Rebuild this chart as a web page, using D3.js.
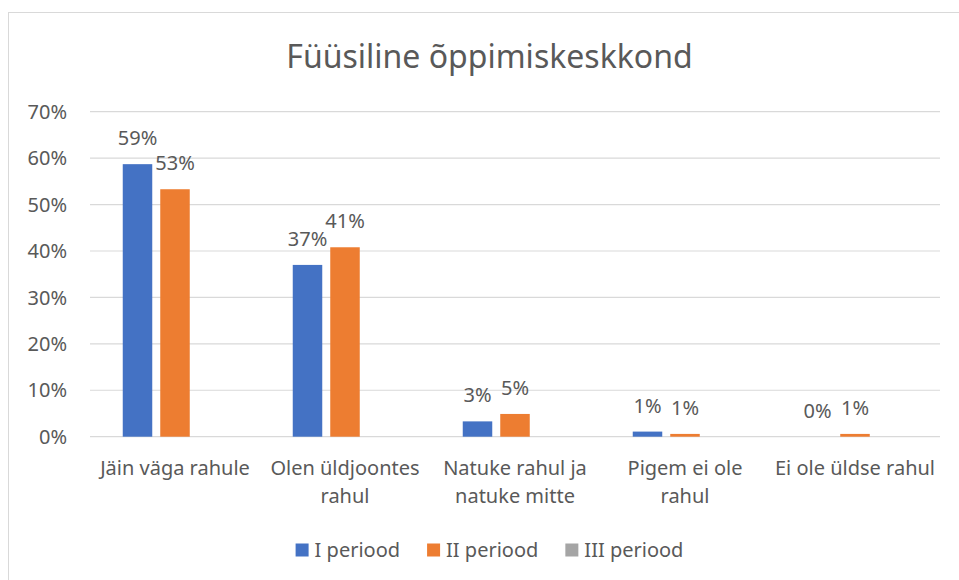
<!DOCTYPE html>
<html>
<head>
<meta charset="utf-8">
<script src="https://cdn.jsdelivr.net/npm/d3@7"></script>
<style>
  body { margin: 0; background: #fff; }
  text { font-family: "Noto Sans", sans-serif; fill: #595959; }
</style>
</head>
<body>
<svg id="chart" width="959" height="580"></svg>
<script>
"use strict";
// chart data
var categories = ["Jäin väga rahule", "Olen üldjoontes rahul", "Natuke rahul ja natuke mitte", "Pigem ei ole rahul", "Ei ole üldse rahul"];
var seriesNames = ["I periood", "II periood", "III periood"];
var period1 = [0.587, 0.370, 0.033, 0.011, 0.000];
var period2 = [0.533, 0.408, 0.049, 0.006, 0.006];
var period3 = [null, null, null, null, null];
var yTicks = [0, 0.1, 0.2, 0.3, 0.4, 0.5, 0.6, 0.7];
var colors = ["#4472C4", "#ED7D31", "#A5A5A5"];

var seriesValues = [period1, period2, period3];
var svg = d3.select("#chart");

svg.append("rect").attr("width", 959).attr("height", 580).attr("fill", "#fff");
// outer chart frame (only top and left are inside the window)
svg.append("rect")
    .attr("x", 8.5).attr("y", 12.5)
    .attr("width", 1200).attr("height", 1200)
    .attr("fill", "none").attr("stroke", "#D9D9D9");

svg.append("text")
    .attr("x", 489.5).attr("y", 68)
    .attr("text-anchor", "middle")
    .style("font-size", "32px")
    .text("Füüsiline õppimiskeskkond");

var x0 = d3.scaleBand().domain(categories).range([90, 940]);
var x1 = d3.scaleBand().domain(seriesNames)
    .range([x0.bandwidth() / 2 - 52.25, x0.bandwidth() / 2 + 52.25])
    .paddingInner(8 / 37.5);
var y = d3.scaleLinear().domain([0, 0.7]).range([436.7, 111.7]);
var pct = d3.format(".0%");

// gridlines
svg.append("g").selectAll("line").data(yTicks).join("line")
    .attr("x1", 90).attr("x2", 940)
    .attr("y1", function (d) { return y(d); })
    .attr("y2", function (d) { return y(d); })
    .attr("stroke", "#D9D9D9").attr("stroke-width", 1.2);

// y tick labels
svg.append("g").selectAll("text").data(yTicks).join("text")
    .attr("x", 67).attr("y", function (d) { return y(d); })
    .attr("dy", "0.36em")
    .attr("text-anchor", "end")
    .style("font-size", "20px")
    .text(pct);

// bars + labels
var rows = [];
seriesNames.forEach(function (s, i) {
    categories.forEach(function (c, j) {
        var v = seriesValues[i][j];
        if (v !== null) rows.push({ s: s, c: c, v: v, color: colors[i] });
    });
});

svg.append("g").selectAll("rect").data(rows).join("rect")
    .attr("x", function (d) { return x0(d.c) + x1(d.s); })
    .attr("y", function (d) { return y(d.v); })
    .attr("width", x1.bandwidth())
    .attr("height", function (d) { return y(0) - y(d.v); })
    .attr("fill", function (d) { return d.color; });

svg.append("g").selectAll("text").data(rows).join("text")
    .attr("x", function (d) { return x0(d.c) + x1(d.s) + x1.bandwidth() / 2; })
    .attr("y", function (d) { return y(d.v) - 19; })
    .attr("text-anchor", "middle")
    .style("font-size", "20px")
    .text(function (d) { return pct(d.v); });

// category labels, wrapped to the band width
var catLabels = svg.append("g").selectAll("text").data(categories).join("text")
    .attr("x", function (d) { return x0(d) + x0.bandwidth() / 2; })
    .attr("y", 475)
    .attr("text-anchor", "middle")
    .style("font-size", "20px");

catLabels.each(function (d) {
    var el = d3.select(this);
    var words = d.split(" ");
    var line = [];
    var lineNo = 0;
    var tspan = el.append("tspan").attr("x", el.attr("x")).attr("y", 475);
    words.forEach(function (w) {
        line.push(w);
        tspan.text(line.join(" "));
        if (tspan.node().getComputedTextLength() > 166 && line.length > 1) {
            line.pop();
            tspan.text(line.join(" "));
            line = [w];
            lineNo++;
            tspan = el.append("tspan").attr("x", el.attr("x")).attr("y", 475 + lineNo * 28).text(w);
        }
    });
});

// legend
var legend = svg.append("g");
var items = legend.selectAll("g").data(seriesNames).join("g");
items.append("rect")
    .attr("width", 13).attr("height", 13)
    .attr("y", 543.5)
    .attr("fill", function (d, i) { return colors[i]; });
items.append("text")
    .attr("x", 19).attr("y", 557)
    .style("font-size", "20px")
    .text(function (d) { return d; });
var offset = 0;
var widths = [];
items.each(function () {
    var w = d3.select(this).select("text").node().getComputedTextLength() + 19;
    widths.push(w);
});
var total = d3.sum(widths) + 27 * (widths.length - 1);
var start = 489.5 - total / 2;
items.attr("transform", function (d, i) {
    var t = "translate(" + (start + offset) + ",0)";
    offset += widths[i] + 27;
    return t;
});
</script>
</body>
</html>
